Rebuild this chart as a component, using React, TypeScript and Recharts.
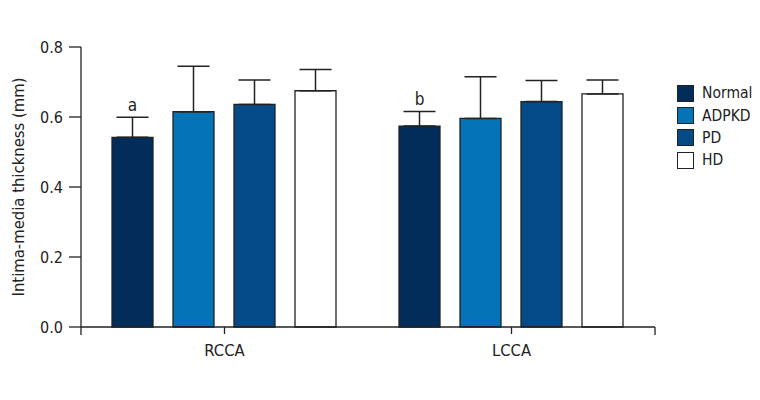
import React from "react";
import {
  BarChart,
  Bar,
  XAxis,
  YAxis,
  ErrorBar,
  LabelList,
  Label,
} from "recharts";

const categories = ["RCCA", "LCCA"];
const normal = [0.542, 0.574];
const normalErr = [0.057, 0.042];
const adpkd = [0.615, 0.596];
const adpkdErr = [0.13, 0.119];
const pd = [0.636, 0.644];
const pdErr = [0.07, 0.06];
const hd = [0.675, 0.666];
const hdErr = [0.061, 0.04];
const sigLetters = ["a", "b"];
const yTicks = [0, 0.2, 0.4, 0.6, 0.8];

const FONT = "'Liberation Sans Narrow', 'DejaVu Sans Condensed', 'Roboto', sans-serif";
const INK = "#222";
const TICK_SIZE = 7;
const TICK_MARGIN = 10;

const series = [
  { key: "normal", name: "Normal", color: "#022d5b" },
  { key: "adpkd", name: "ADPKD", color: "#0474b6" },
  { key: "pd", name: "PD", color: "#034a87" },
  { key: "hd", name: "HD", color: "#ffffff" },
];

const data = categories.map((name, i) => ({
  name,
  normal: normal[i],
  normalErr: [0, normalErr[i]],
  adpkd: adpkd[i],
  adpkdErr: [0, adpkdErr[i]],
  pd: pd[i],
  pdErr: [0, pdErr[i]],
  hd: hd[i],
  hdErr: [0, hdErr[i]],
  sig: sigLetters[i],
}));

const SigLabel = (props: any) => {
  const { x, y, width, height, value, index } = props;
  if (!value) return null;
  const perUnit = height / normal[index];
  const top = y - normalErr[index] * perUnit;
  return (
    <text
      x={x + width / 2}
      y={top - 6}
      textAnchor="middle"
      fontSize={17}
      fontFamily={FONT}
      fill={INK}
    >
      {value}
    </text>
  );
};

// category label, plus the ticks at the outer band edges (payload.offset = half band)
const CatTick = (props: any) => {
  const { x, y, payload, index, visibleTicksCount } = props;
  const half = payload && payload.offset ? payload.offset : 0;
  const axisY = y - TICK_SIZE - TICK_MARGIN;
  const first = index === 0;
  const last = index === visibleTicksCount - 1;
  return (
    <g>
      {half > 0 && first && (
        <line x1={x - half} x2={x - half} y1={axisY} y2={axisY + 8} stroke={INK} strokeWidth={1.3} />
      )}
      {half > 0 && last && (
        <line x1={x + half} x2={x + half} y1={axisY} y2={axisY + 8} stroke={INK} strokeWidth={1.3} />
      )}
      <text x={x} y={y} dy={12} textAnchor="middle" fontSize={16.5} fontFamily={FONT} fill={INK}>
        {payload.value}
      </text>
    </g>
  );
};

const LegendBox = () => (
  <div
    style={{
      position: "absolute",
      left: 677,
      top: 82,
      width: 82,
      fontFamily: FONT,
      fontSize: 15.5,
      color: INK,
      whiteSpace: "nowrap",
    }}
  >
    {series.map((s) => (
      <div
        key={s.key}
        style={{ display: "flex", alignItems: "center", height: 22.4 }}
      >
        <span
          style={{
            flex: "none",
            width: 17,
            height: 17,
            background: s.color,
            border: "1px solid " + INK,
            marginRight: 8,
            boxSizing: "border-box",
          }}
        />
        <span>{s.name}</span>
      </div>
    ))}
  </div>
);

export default function App() {
  return (
    <div
      style={{
        margin: -8,
        position: "relative",
        background: "#fff",
        width: 760,
        height: 400,
      }}
    >
      <BarChart
        width={760}
        height={400}
        data={data}
        margin={{ top: 47, right: 105, bottom: 43, left: 0 }}
        barCategoryGap={31}
        barGap={20}
      >
        <XAxis
          dataKey="name"
          height={30}
          axisLine={{ stroke: INK, strokeWidth: 1.3 }}
          tickLine={{ stroke: INK, strokeWidth: 1.3 }}
          tickSize={TICK_SIZE}
          tickMargin={TICK_MARGIN}
          tick={<CatTick />}
        />
        <YAxis
          width={81}
          domain={[0, 0.8]}
          ticks={yTicks}
          tickFormatter={(v: number) => v.toFixed(1)}
          axisLine={{ stroke: INK, strokeWidth: 1.3 }}
          tickLine={{ stroke: INK, strokeWidth: 1.3 }}
          tickSize={12}
          tickMargin={6}
          tick={{ fill: INK, fontSize: 16, fontFamily: FONT }}
        >
          <Label
            value="Intima-media thickness (mm)"
            angle={-90}
            position="center"
            dx={-22}
            style={{ fill: INK, fontSize: 16.5, fontFamily: FONT }}
          />
        </YAxis>
        {series.map((s) => (
          <Bar
            key={s.key}
            dataKey={s.key}
            name={s.name}
            fill={s.color}
            stroke={INK}
            strokeWidth={1.3}
            isAnimationActive={false}
          >
            <ErrorBar
              dataKey={s.key + "Err"}
              width={16}
              stroke={INK}
              strokeWidth={1.5}
              direction="y"
            />
            {s.key === "normal" && (
              <LabelList dataKey="sig" content={SigLabel} />
            )}
          </Bar>
        ))}
      </BarChart>
      <LegendBox />
    </div>
  );
}
